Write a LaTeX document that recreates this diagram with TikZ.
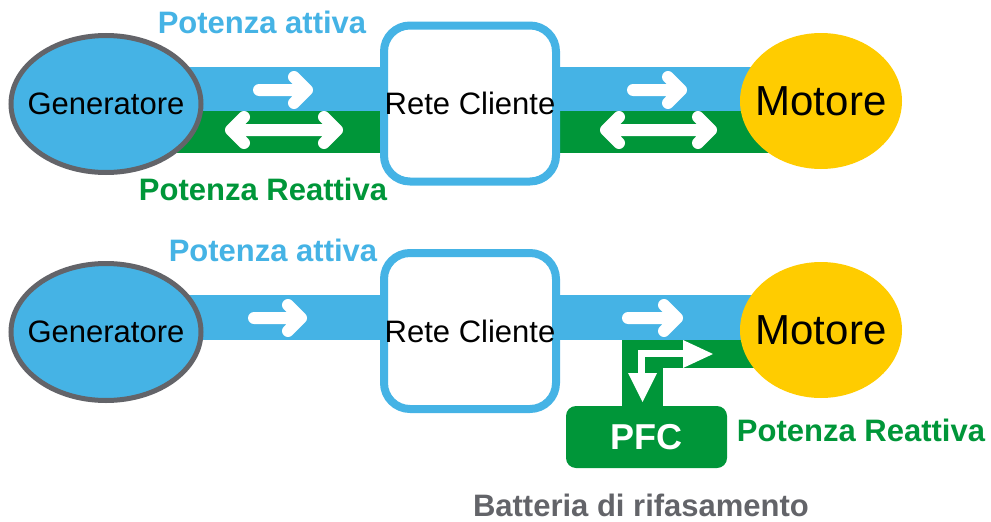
\documentclass[tikz,border=0pt]{standalone}
\usepackage{fontspec}
\setmainfont{Liberation Sans}
\usetikzlibrary{shapes.geometric}
\pgfdeclarelayer{background}
\pgfsetlayers{background,main}
\definecolor{pblue}{HTML}{45B3E5}
\definecolor{pgreen}{HTML}{009639}
\definecolor{pyellow}{HTML}{FFCC00}
\definecolor{pgray}{HTML}{636469}
\tikzset{
  genstyle/.style={ellipse, fill=pblue, draw=pgray, line width=5pt, minimum width=190pt, minimum height=137pt, inner sep=0pt, font=\fontsize{31}{36}\selectfont},
  retestyle/.style={rectangle, rounded corners=26pt, fill=white, draw=pblue, line width=8pt, minimum width=172pt, minimum height=156pt, inner sep=0pt, font=\fontsize{31}{36}\selectfont},
  motstyle/.style={ellipse, fill=pyellow, minimum width=162pt, minimum height=136pt, inner sep=0pt, font=\fontsize{42}{48}\selectfont},
  pfcstyle/.style={rectangle, rounded corners=10pt, fill=pgreen, minimum width=161pt, minimum height=62pt, inner sep=0pt, text=white, font=\fontsize{36}{42}\selectfont\bfseries},
  lbl/.style={inner sep=0pt, font=\fontsize{31}{36}\selectfont\bfseries},
  warrow/.style={draw=white, line width=12pt, line cap=round, line join=round},
}
\begin{document}
\begin{tikzpicture}[x=1pt,y=-1pt]
\useasboundingbox (0,0) rectangle (991,522);
% nodes
\node[genstyle] (gen1) at (106,104) {\makebox[0pt]{Generatore}};
\node[retestyle] (rete1) at (470,103.5) {Rete Cliente};
\node[motstyle] (mot1) at (821,101) {\makebox[0pt]{Motore}};
\node[genstyle] (gen2) at (106,332) {\makebox[0pt]{Generatore}};
\node[retestyle] (rete2) at (470,331) {Rete Cliente};
\node[motstyle] (mot2) at (821,330) {\makebox[0pt]{Motore}};
\node[pfcstyle] (pfc) at (646.5,437) {PFC};
% labels
\node[lbl, text=pblue] (la1) at (262,22) {Potenza attiva};
\node[lbl, text=pgreen] (lr1) at (263,189) {Potenza Reattiva};
\node[lbl, text=pblue] (la2) at (273,250) {Potenza attiva};
\node[lbl, text=pgreen] (lr2) at (861,430) {Potenza Reattiva};
\node[lbl, text=pgray] (bat) at (641,505) {Batteria di rifasamento};
% bands
\begin{pgfonlayer}{background}
\fill[pblue] (gen1.center |- 0,67) rectangle (mot1.center |- 0,111);
\fill[pgreen] (gen1.center |- 0,111) rectangle (mot1.center |- 0,153);
\fill[pblue] (gen2.center |- 0,295) rectangle (mot2.center |- 0,340);
\fill[pgreen] (622,340) rectangle (mot2.center |- 0,368);
\fill[pgreen] (622,340) rectangle (663,407);
\end{pgfonlayer}
% top row arrows
\draw[warrow] (259,90) -- (307,90) (294,77) -- (307,90) -- (294,103);
\draw[warrow] (231,130) -- (337,130) (244,117) -- (231,130) -- (244,143) (324,117) -- (337,130) -- (324,143);
\draw[warrow] (633,90) -- (681,90) (668,77) -- (681,90) -- (668,103);
\draw[warrow] (606,130) -- (711,130) (619,117) -- (606,130) -- (619,143) (698,117) -- (711,130) -- (698,143);
% bottom row arrows
\draw[warrow] (254,318) -- (301,318) (288,305) -- (301,318) -- (288,331);
\draw[warrow] (628,318) -- (677,318) (664,305) -- (677,318) -- (664,331);
% L arrow to PFC
\fill[white] (638,350) rectangle (684,357);
\fill[white] (683,340) -- (713,354) -- (683,368) -- cycle;
\fill[white] (638,350) rectangle (645,374);
\fill[white] (628,373) -- (657,373) -- (642.5,402) -- cycle;
\end{tikzpicture}
\end{document}
